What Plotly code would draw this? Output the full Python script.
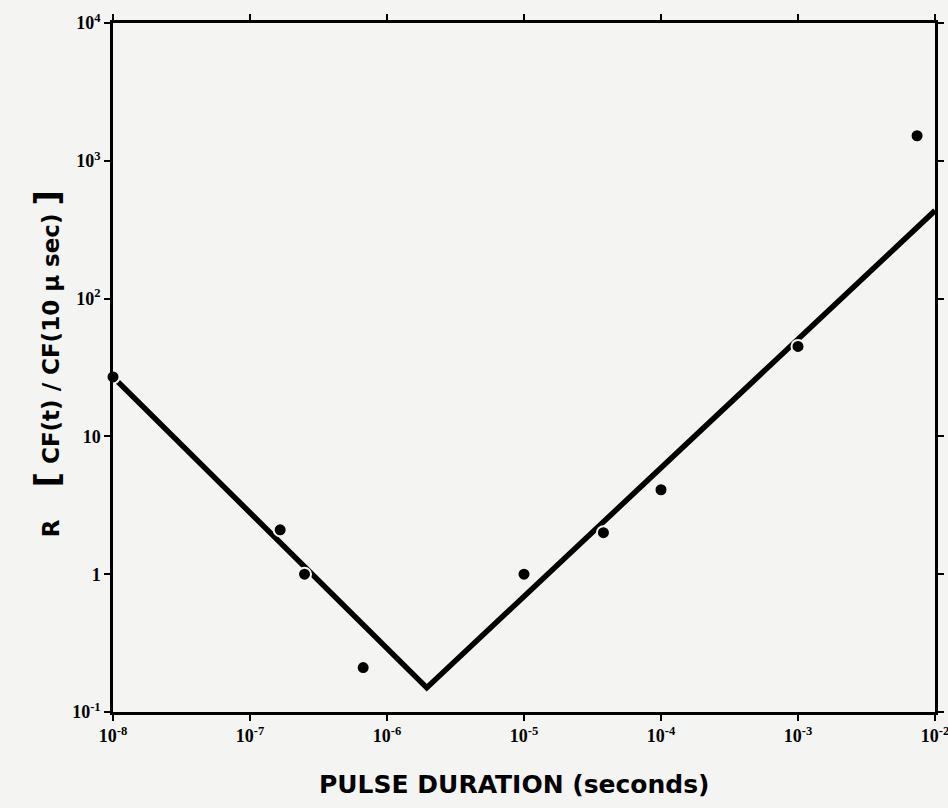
import plotly.graph_objects as go

# measured data points (pulse duration in s, R)
pulse_s = [1e-8, 1.66e-7, 2.5e-7, 6.7e-7, 1e-5, 3.8e-5, 1e-4, 1e-3, 7.4e-3]
r_vals = [27, 2.1, 1.0, 0.21, 1.0, 2.0, 4.1, 45, 1520]

# fitted V-shaped line
fit_x = [1e-8, 1.95e-6, 1e-2]
fit_y = [27, 0.15, 435]

x_tickvals = [1e-8, 1e-7, 1e-6, 1e-5, 1e-4, 1e-3, 1e-2]
x_ticktext = ["<b>10<sup>-8</sup></b>", "<b>10<sup>-7</sup></b>", "<b>10<sup>-6</sup></b>",
              "<b>10<sup>-5</sup></b>", "<b>10<sup>-4</sup></b>", "<b>10<sup>-3</sup></b>",
              "<b>10<sup>-2</sup></b>"]
y_tickvals = [1e-1, 1, 10, 1e2, 1e3, 1e4]
y_ticktext = ["<b>10<sup>-1</sup></b>", "<b>1</b>", "<b>10</b>", "<b>10<sup>2</sup></b>",
              "<b>10<sup>3</sup></b>", "<b>10<sup>4</sup></b>"]

bg = "#f4f4f2"

fig = go.Figure()
fig.add_trace(go.Scatter(x=fit_x, y=fit_y, mode="lines",
                         line=dict(color="black", width=5.5), cliponaxis=False,
                         showlegend=False, hoverinfo="skip"))
fig.add_trace(go.Scatter(x=pulse_s, y=r_vals, mode="markers",
                         marker=dict(color="black", size=13, line=dict(color=bg, width=2)),
                         cliponaxis=False, showlegend=False))

axis_common = dict(showgrid=False, zeroline=False, showline=True, linecolor="black",
                   linewidth=2.5, ticks="outside", ticklen=6, tickwidth=2,
                   tickcolor="black", mirror="ticks", automargin=False,
                   ticklabeloverflow="allow",
                   tickfont=dict(family="Liberation Serif", size=18, color="black"))

fig.update_xaxes(type="log", range=[-8, -2], tickvals=x_tickvals, ticktext=x_ticktext,
                 **axis_common)
fig.update_yaxes(type="log", range=[-1, 4], tickvals=y_tickvals, ticktext=y_ticktext,
                 **axis_common)

fig.add_annotation(text="<b>PULSE DURATION (seconds)</b>", xref="paper", yref="paper",
                   x=0.488, y=-0.105, xanchor="center", yanchor="middle", showarrow=False,
                   font=dict(family="DejaVu Sans", size=25, color="black"))
fig.add_annotation(text="<b>R    <span style='font-size:34px'>[</span> CF(t) / CF(10 μ sec) <span style='font-size:34px'>]</span></b>",
                   xref="paper", yref="paper", x=-0.08, y=0.505, xanchor="center",
                   yanchor="middle", textangle=-90, showarrow=False,
                   font=dict(family="DejaVu Sans", size=23, color="black"))

fig.update_layout(width=948, height=808, paper_bgcolor=bg, plot_bgcolor=bg,
                  margin=dict(l=113, r=13, t=23, b=96))

fig.write_html("out.html", config={"displayModeBar": False},
               post_script="document.body.style.margin='0';document.body.style.overflow='hidden';")
